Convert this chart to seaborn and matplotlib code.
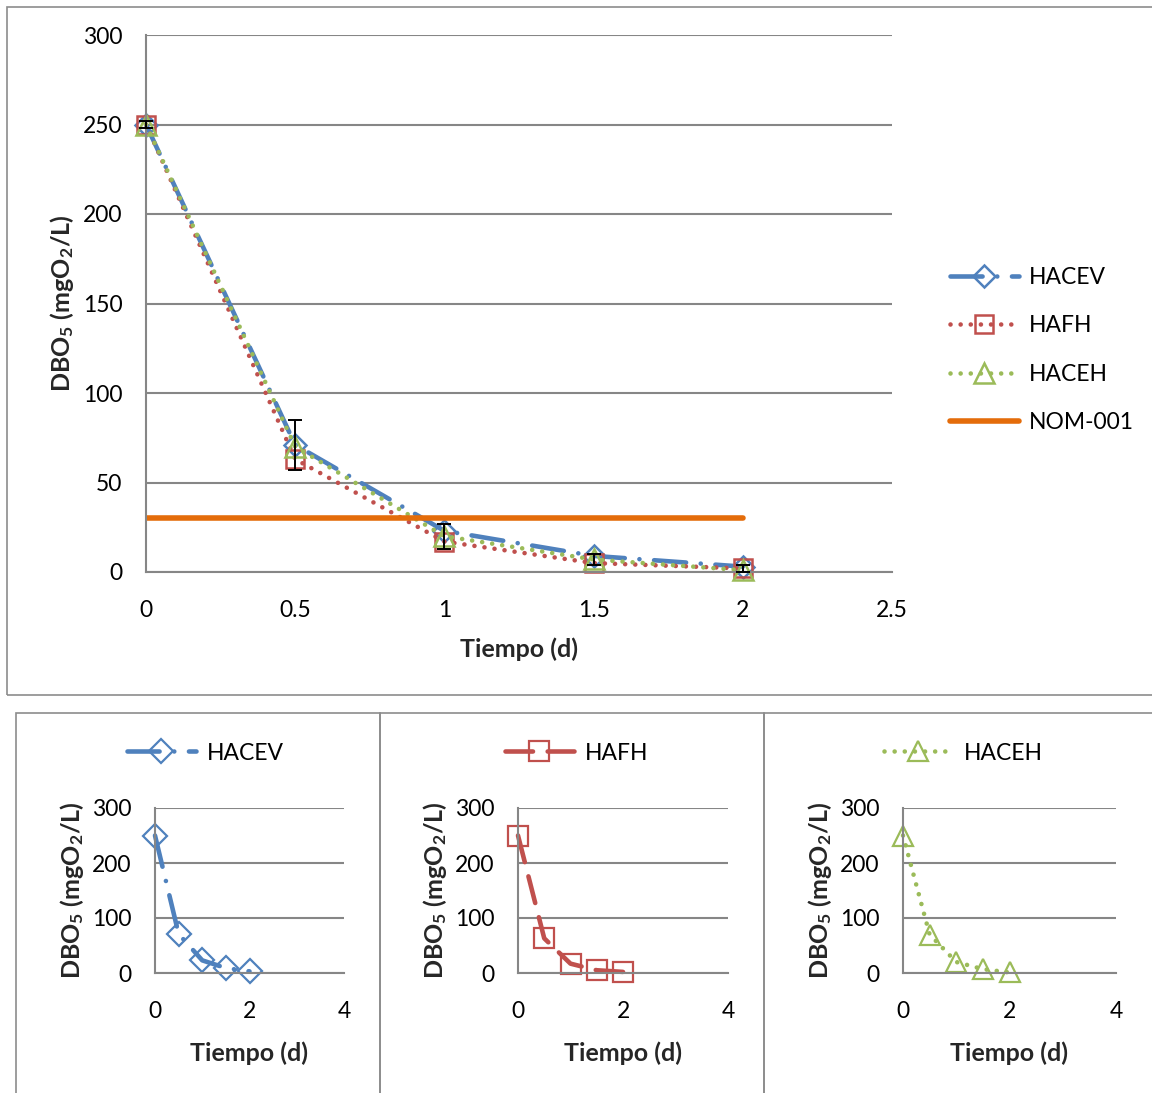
import matplotlib
matplotlib.use("Agg")
import matplotlib.pyplot as plt
import seaborn as sns
import numpy as np
import pandas as pd
from matplotlib.patches import Rectangle

# ---------------- data ----------------
tiempo = [0, 0.5, 1, 1.5, 2]
hacev = [250, 71, 23, 9, 3]
hafh = [250, 63, 17, 5, 2]
haceh = [250, 70, 20, 7, 1]
nom_x = [0, 2]
nom_y = [30, 30]
err_mean = [250, 71, 20, 7, 2]
err_size = [2, 14, 7, 3, 2]
series_names = ["HACEV", "HAFH", "HACEH", "NOM-001"]
main_yticks = [0, 50, 100, 150, 200, 250, 300]
main_xticks = [0, 0.5, 1, 1.5, 2, 2.5]
main_xticklabels = ["0", "0.5", "1", "1.5", "2", "2.5"]
small_yticks = [0, 100, 200, 300]
small_xticks = [0, 2, 4]
xlabel = "Tiempo (d)"
ylabel = r"DBO$_{\mathrm{5}}$ (mgO$_{\mathrm{2}}$/L)"

# ---------------- style ----------------
sns.set_theme(style="white")
plt.rcParams["font.family"] = ["Lato", "DejaVu Sans"]
plt.rcParams["mathtext.fontset"] = "custom"
plt.rcParams["mathtext.rm"] = "Lato:bold"
plt.rcParams["mathtext.bf"] = "Lato:bold"
plt.rcParams["mathtext.it"] = "Lato:bold"
plt.rcParams["text.color"] = "black"

BLUE = "#4F81BD"
RED = "#C0504D"
GREEN = "#9BBB59"
ORANGE = "#E46C0A"
GRID = "#868686"
BOX = "#8C8C8C"
FS = 16.5      # tick labels / legend
LFS = 18       # axis titles

W, H = 1152, 1093
fig = plt.figure(figsize=(W / 100, H / 100), dpi=100)
fig.patch.set_facecolor("white")

def fx(px):
    return px / W

def fy(py):
    return 1 - py / H

# boxes
for (x0, y0, x1, y1) in [(7, 7, 1160, 695), (16, 713, 380, 1100), (380, 713, 764, 1100), (764, 713, 1160, 1100)]:
    fig.patches.append(Rectangle((fx(x0), fy(y1)), fx(x1) - fx(x0), fy(y0) - fy(y1),
                                 transform=fig.transFigure, fill=False, edgecolor=BOX, lw=1.2))

dash_dot = (0, (7, 3.2, 0.01, 3.2))
dotted = (0, (0.01, 2.2))
dashed = (0, (6, 3.2))

def style_axes(ax, xlim, ylim, yticks, xticks, xticklabels=None):
    ax.set_xlim(*xlim)
    ax.set_ylim(*ylim)
    ax.set_yticks(yticks)
    ax.set_xticks(xticks)
    if xticklabels is not None:
        ax.set_xticklabels(xticklabels)
    ax.yaxis.grid(True, color=GRID, lw=1.5)
    ax.xaxis.grid(False)
    for s in ["top", "right"]:
        ax.spines[s].set_visible(False)
    for s in ["left", "bottom"]:
        ax.spines[s].set_color(GRID)
        ax.spines[s].set_linewidth(1.5)
    ax.tick_params(axis="both", length=0, labelsize=FS, colors="black", pad=18)
    ax.set_xlabel(xlabel, fontsize=LFS, fontweight="bold", labelpad=10)
    ax.set_ylabel(ylabel, fontsize=LFS, fontweight="bold", labelpad=8)
    ax.set_facecolor("white")

# ---------------- main chart ----------------
ax = fig.add_axes([fx(146), fy(572), fx(892) - fx(146), fy(35) - fy(572)])
df = pd.DataFrame({"t": tiempo, "HACEV": hacev, "HAFH": hafh, "HACEH": haceh})
sns.lineplot(data=df, x="t", y="HACEV", ax=ax, color=BLUE, lw=3.3, linestyle=dash_dot,
             dash_capstyle="round", marker="D", markersize=11.5, markerfacecolor="none",
             markeredgewidth=1.8, markeredgecolor=BLUE, label=series_names[0], clip_on=False)
sns.lineplot(data=df, x="t", y="HAFH", ax=ax, color=RED, lw=3.3, linestyle=dotted,
             dash_capstyle="round", marker="s", markersize=13, markerfacecolor="none",
             markeredgewidth=1.8, markeredgecolor=RED, label=series_names[1], clip_on=False)
sns.lineplot(data=df, x="t", y="HACEH", ax=ax, color=GREEN, lw=3.3, linestyle=dotted,
             dash_capstyle="round", marker="^", markersize=14, markerfacecolor="none",
             markeredgewidth=1.8, markeredgecolor=GREEN, label=series_names[2], clip_on=False)
sns.lineplot(x=nom_x, y=nom_y, ax=ax, color=ORANGE, lw=4, label=series_names[3])
ax.errorbar(tiempo, err_mean, yerr=err_size, fmt="none", ecolor="black", elinewidth=1.4,
            capsize=5, capthick=1.4, zorder=5, clip_on=False)
style_axes(ax, (0, 2.5), (0, 300), main_yticks, main_xticks, main_xticklabels)
ax.tick_params(axis="y", pad=17)
ax.tick_params(axis="x", pad=20)
ax.set_ylabel(ylabel, fontsize=LFS, fontweight="bold", labelpad=5)
ax.xaxis.labelpad = 12
handles, labels = ax.get_legend_handles_labels()
ax.legend(handles, labels, loc="center left", bbox_to_anchor=(fx(950), fy(350)),
          bbox_transform=fig.transFigure, frameon=False, fontsize=FS, handlelength=3.0,
          handletextpad=0.45, labelspacing=1.2, borderpad=0, borderaxespad=0)

# ---------------- small panels ----------------
panels = [
    (155, 344, "HACEV", hacev, BLUE, dash_dot, "D", 12, 127),
    (518, 728, "HAFH", hafh, RED, dashed, "s", 14, 505),
    (903, 1116, "HACEH", haceh, GREEN, dotted, "^", 15, 884),
]
for (x0, x1, name, vals, col, ls, mk, ms, legx) in panels:
    a = fig.add_axes([fx(x0), fy(973), fx(x1) - fx(x0), fy(808) - fy(973)])
    sns.lineplot(x=tiempo, y=vals, ax=a, color=col, lw=3.3, linestyle=ls, dash_capstyle="round",
                 marker=mk, markersize=ms, markerfacecolor="none", markeredgecolor=col,
                 markeredgewidth=1.6, label=name, clip_on=False)
    style_axes(a, (0, 4), (0, 300), small_yticks, small_xticks)
    a.tick_params(axis="y", pad=17)
    a.tick_params(axis="x", pad=20)
    a.set_ylabel(ylabel, fontsize=LFS, fontweight="bold", labelpad=4)
    a.xaxis.labelpad = 14
    h, l = a.get_legend_handles_labels()
    a.legend(h, l, loc="center left", bbox_to_anchor=(fx(legx), fy(753)),
             bbox_transform=fig.transFigure, frameon=False, fontsize=FS, handlelength=3.0,
             handletextpad=0.5, borderpad=0, borderaxespad=0)

fig.savefig("out.png", dpi=100, facecolor="white")
